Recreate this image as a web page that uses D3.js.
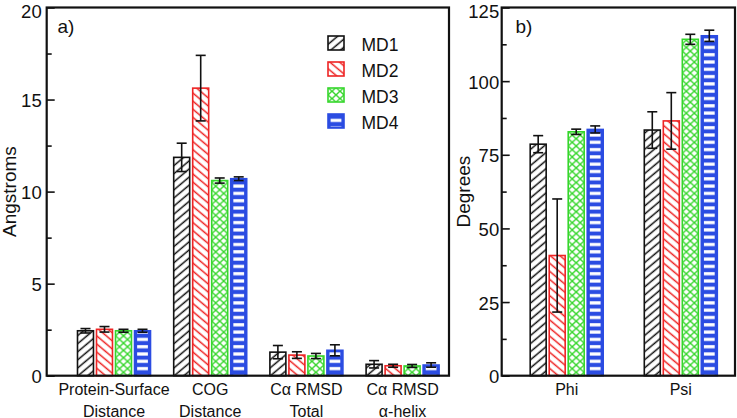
<!DOCTYPE html>
<html><head><meta charset="utf-8">
<script src="https://cdn.jsdelivr.net/npm/d3@7"></script>
<style>
body{margin:0;background:#fff}
svg text{font-family:"Liberation Sans",Arial,Helvetica,sans-serif;fill:#111}
</style></head>
<body><svg id="c" width="737" height="418"></svg>
<script>
// ---------- data ----------
const series = ["MD1", "MD2", "MD3", "MD4"];
const seriesColors = ["#111111", "#ee2424", "#35d62b", "#2b4ce2"];

const catsA = ["Protein-Surface Distance", "COG Distance", "Cα RMSD Total", "Cα RMSD α-helix"];
const catLinesA = [["Protein-Surface", "Distance"], ["COG", "Distance"], ["Cα RMSD", "Total"], ["Cα RMSD", "α-helix"]];
const md1A = [2.44, 11.86, 1.28, 0.62];
const md2A = [2.52, 15.62, 1.12, 0.54];
const md3A = [2.44, 10.60, 1.07, 0.53];
const md4A = [2.44, 10.70, 1.38, 0.58];
const err1A = [0.12, 0.77, 0.36, 0.20];
const err2A = [0.15, 1.78, 0.18, 0.08];
const err3A = [0.08, 0.14, 0.14, 0.08];
const err4A = [0.08, 0.10, 0.30, 0.12];

const catsB = ["Phi", "Psi"];
const md1B = [78.6, 83.4];
const md2B = [40.8, 86.5];
const md3B = [82.8, 114.2];
const md4B = [83.6, 115.4];
const err1B = [2.9, 6.2];
const err2B = [19.2, 9.6];
const err3B = [0.9, 1.7];
const err4B = [1.2, 1.9];

const ticksA = [0, 5, 10, 15, 20];
const minorA = [2.5, 7.5, 12.5, 17.5];
const ticksB = [0, 25, 50, 75, 100, 125];
const minorB = [12.5, 37.5, 62.5, 87.5, 112.5];

// ---------- setup ----------
const svg = d3.select("#c");
const defs = svg.append("defs");
let pid = 0;

function makeFill(si, x, w) {
  const id = "p" + (pid++);
  const c = seriesColors[si];
  if (si === 0 || si === 1) {
    const p = defs.append("pattern").attr("id", id).attr("patternUnits", "userSpaceOnUse")
      .attr("width", 20).attr("height", 6.2)
      .attr("patternTransform", `translate(${x},0) rotate(${si === 0 ? -40 : 40})`);
    p.append("rect").attr("width", 20).attr("height", 6.2).attr("fill", "#fff");
    p.append("line").attr("x1", 0).attr("x2", 20).attr("y1", 3).attr("y2", 3)
      .attr("stroke", c).attr("stroke-width", 1.5);
  } else if (si === 2) {
    const pw = w / 2, ph = 7.3;
    const p = defs.append("pattern").attr("id", id).attr("patternUnits", "userSpaceOnUse")
      .attr("x", x).attr("y", 0).attr("width", pw).attr("height", ph);
    p.append("rect").attr("width", pw).attr("height", ph).attr("fill", "#fff");
    p.append("line").attr("x1", 0).attr("y1", 0).attr("x2", pw).attr("y2", ph).attr("stroke", c).attr("stroke-width", 1.4);
    p.append("line").attr("x1", pw).attr("y1", 0).attr("x2", 0).attr("y2", ph).attr("stroke", c).attr("stroke-width", 1.4);
  } else {
    const p = defs.append("pattern").attr("id", id).attr("patternUnits", "userSpaceOnUse")
      .attr("x", 0).attr("y", 0).attr("width", 40).attr("height", 7.3);
    p.append("rect").attr("width", 40).attr("height", 7.3).attr("fill", c);
    p.append("rect").attr("y", 2).attr("width", 40).attr("height", 3.2).attr("fill", "#fff");
  }
  return "url(#" + id + ")";
}

function drawBar(g, si, x, y, w, h) {
  const c = seriesColors[si];
  if (h <= 0) return;
  if (si === 3) {
    g.append("rect").attr("x", x).attr("y", y).attr("width", w).attr("height", h)
      .attr("fill", c).attr("stroke", c).attr("stroke-width", 1.6);
    g.append("rect").attr("x", x + 2.6).attr("y", y + 1.5).attr("width", Math.max(0, w - 5.2)).attr("height", Math.max(0, h - 3))
      .attr("fill", makeFill(si, x, w));
  } else {
    g.append("rect").attr("x", x).attr("y", y).attr("width", w).attr("height", h)
      .attr("fill", makeFill(si, x, w)).attr("stroke", c).attr("stroke-width", 1.6);
  }
}

function panel(opts) {
  const { left, right, top, bottom, domainMax, ticks, minor, cats, catLines, values, errs, centers, label, labelX, letter, letterX, tickPad } = opts;
  const g = svg.append("g");
  const y = d3.scaleLinear().domain([0, domainMax]).range([bottom, top]);
  const x0 = d3.scalePoint().domain(cats).range(centers);
  const x1 = d3.scaleBand().domain(series).range([-36.5, 36.5]).paddingInner(0.16);
  const bw = x1.bandwidth();

  // bars
  series.forEach((s, si) => {
    cats.forEach((c, ci) => {
      const v = values[si][ci];
      const bx = x0(c) + x1(s);
      drawBar(g, si, bx, y(v), bw, y(0) - y(v));
    });
  });
  // error bars
  series.forEach((s, si) => {
    cats.forEach((c, ci) => {
      const v = values[si][ci], e = errs[si][ci];
      const cx = x0(c) + x1(s) + bw / 2;
      const eg = g.append("g").attr("stroke", "#111").attr("stroke-width", 1.6);
      eg.append("line").attr("x1", cx).attr("x2", cx).attr("y1", y(v + e)).attr("y2", y(v - e));
      eg.append("line").attr("x1", cx - 5).attr("x2", cx + 5).attr("y1", y(v + e)).attr("y2", y(v + e));
      eg.append("line").attr("x1", cx - 5).attr("x2", cx + 5).attr("y1", y(v - e)).attr("y2", y(v - e));
    });
  });

  // axes
  const ax = g.append("g").attr("transform", `translate(${left},0)`)
    .call(d3.axisLeft(y).tickValues(ticks).tickSize(-8).tickPadding(tickPad).tickFormat(d3.format("d")));
  ax.select(".domain").remove();
  ax.selectAll(".tick line").attr("stroke", "#111").attr("stroke-width", 1.6);
  ax.selectAll(".tick text").attr("font-size", 18.5).attr("fill", "#111")
    .attr("dy", d => d === domainMax ? "0.52em" : "0.38em")
    .style("font-family", '"Liberation Sans",Arial,sans-serif');
  const axm = g.append("g").attr("transform", `translate(${left},0)`)
    .call(d3.axisLeft(y).tickValues(minor).tickSize(-5).tickFormat(""));
  axm.select(".domain").remove();
  axm.selectAll(".tick line").attr("stroke", "#111").attr("stroke-width", 1.6);

  // frame
  g.append("rect").attr("x", left).attr("y", top).attr("width", right - left).attr("height", bottom - top)
    .attr("fill", "none").attr("stroke", "#111").attr("stroke-width", 2.2);

  // category labels
  cats.forEach((c, ci) => {
    const t = g.append("text").attr("x", x0(c)).attr("y", 395).attr("text-anchor", "middle").attr("font-size", 16);
    catLines[ci].forEach((ln, li) => {
      t.append("tspan").attr("x", x0(c)).attr("y", 395 + li * 21.5).text(ln);
    });
  });

  // y label
  g.append("text").attr("transform", `translate(${labelX},${(top + bottom) / 2}) rotate(-90)`)
    .attr("text-anchor", "middle").attr("font-size", 19).text(label);
  // panel letter
  g.append("text").attr("x", letterX).attr("y", 33).attr("font-size", 19).text(letter);
}

panel({
  left: 46.7, right: 449, top: 7.5, bottom: 375.7, domainMax: 20,
  ticks: ticksA, minor: minorA, cats: catsA, catLines: catLinesA,
  values: [md1A, md2A, md3A, md4A], errs: [err1A, err2A, err3A, err4A],
  centers: [114, 402.6], label: "Angstroms", labelX: 16, letter: "a)", letterX: 57.5, tickPad: 5
});
panel({
  left: 501.7, right: 735, top: 7.5, bottom: 375.7, domainMax: 125,
  ticks: ticksB, minor: minorB, cats: catsB, catLines: [["Phi"], ["Psi"]],
  values: [md1B, md2B, md3B, md4B], errs: [err1B, err2B, err3B, err4B],
  centers: [566.7, 680.8], label: "Degrees", labelX: 470, letter: "b)", letterX: 515.5, tickPad: 2.5
});

// legend
const lg = svg.append("g");
series.forEach((s, si) => {
  const ly = 36 + si * 26;
  drawBar(lg, si, 328, ly, 16, 14);
  lg.append("text").attr("x", 361.5).attr("y", ly + 14.5).attr("font-size", 17.5).text(s);
});
</script>
</body></html>
